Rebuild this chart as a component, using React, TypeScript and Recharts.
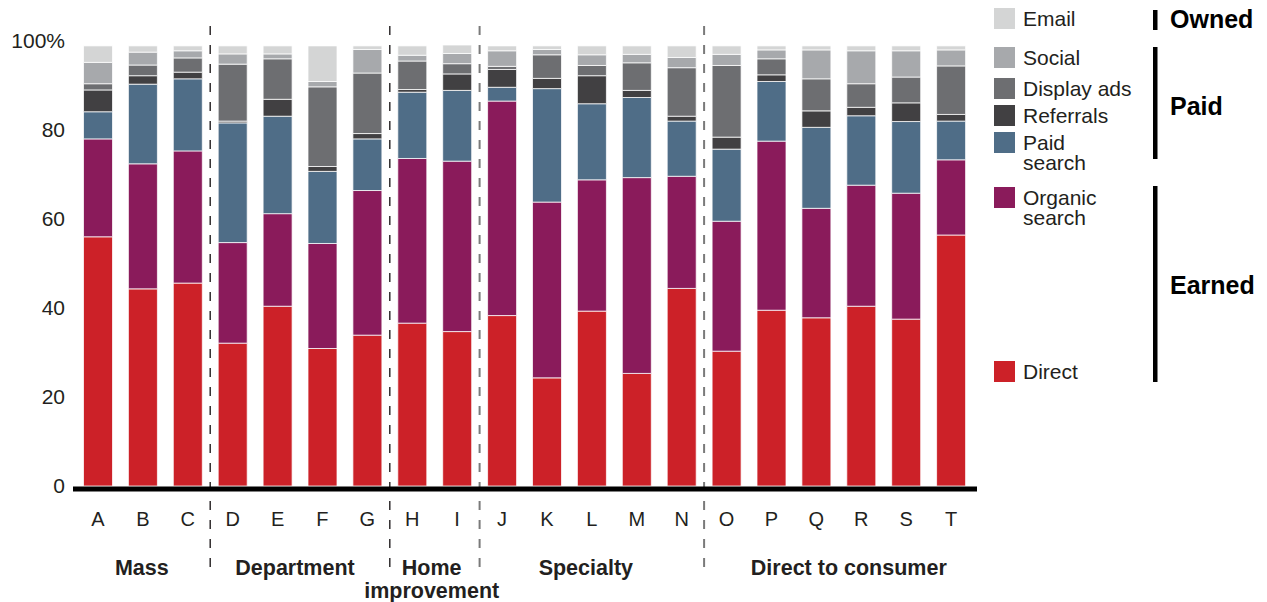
import { BarChart, Bar, XAxis, YAxis, ReferenceLine, ReferenceArea } from "recharts";

// retailers, grouped by channel type
const retailers = ["A", "B", "C", "D", "E", "F", "G", "H", "I", "J", "K", "L", "M", "N", "O", "P", "Q", "R", "S", "T"];

// share of traffic, % (bottom of the stack first)
const direct = [56.0, 44.3, 45.6, 32.1, 40.4, 30.9, 33.9, 36.6, 34.7, 38.3, 24.3, 39.3, 25.3, 44.4, 30.3, 39.5, 37.8, 40.4, 37.5, 56.4];
const organicSearch = [22.0, 28.1, 29.7, 22.6, 20.8, 23.6, 32.5, 37.0, 38.3, 48.2, 39.5, 29.5, 44.0, 25.2, 29.2, 38.0, 24.6, 27.2, 28.3, 16.9];
const paidSearch = [6.1, 17.9, 16.2, 26.9, 21.9, 16.2, 11.6, 14.9, 15.9, 3.1, 25.5, 17.1, 18.0, 12.4, 16.2, 13.4, 18.2, 15.6, 16.1, 8.7];
const referrals = [4.9, 1.9, 1.5, 0.4, 3.8, 1.1, 1.2, 0.6, 3.7, 4.0, 2.3, 6.3, 1.6, 1.1, 2.7, 1.5, 3.7, 1.9, 4.2, 1.5];
const displayAds = [1.4, 2.4, 3.2, 12.8, 9.1, 17.9, 13.6, 6.4, 2.3, 0.7, 5.3, 2.3, 6.2, 10.9, 16.1, 3.6, 7.2, 5.3, 5.8, 10.9];
const social = [4.8, 2.9, 1.6, 2.3, 1.1, 1.2, 5.3, 1.3, 2.3, 3.5, 1.2, 2.4, 1.9, 2.3, 2.5, 2.0, 6.5, 7.4, 5.9, 3.6];
const email = [3.7, 1.4, 1.1, 1.8, 1.8, 8.0, 0.8, 2.1, 1.9, 1.1, 0.8, 2.0, 1.9, 2.6, 1.9, 0.9, 0.9, 1.1, 1.1, 0.9];

const yTicks = [0, 20, 40, 60, 80, 100];

const groupLabels = [["Mass"], ["Department"], ["Home", "improvement"], ["Specialty"], ["Direct to consumer"]];
const groupFirst = ["A", "D", "H", "J", "O"];
const groupLast = ["C", "G", "I", "N", "T"];

const seriesKeys = ["direct", "organicSearch", "paidSearch", "referrals", "displayAds", "social", "email"];
const seriesNames = [["Direct"], ["Organic", "search"], ["Paid", "search"], ["Referrals"], ["Display ads"], ["Social"], ["Email"]];
const colors: Record<string, string> = {
  direct: "#cc2128",
  organicSearch: "#8a1b5b",
  paidSearch: "#4f6d87",
  referrals: "#414042",
  displayAds: "#6d6e71",
  social: "#a7a9ac",
  email: "#d4d5d5",
};

const bracketNames = ["Owned", "Paid", "Earned"];

const data = retailers.map((name, i) => ({
  name,
  direct: direct[i],
  organicSearch: organicSearch[i],
  paidSearch: paidSearch[i],
  referrals: referrals[i],
  displayAds: displayAds[i],
  social: social[i],
  email: email[i],
}));

const FONT = '"Liberation Sans", Arial, Helvetica, sans-serif';
const INK = "#231f20";

function YTick({ x, y, payload }: any) {
  return (
    <text x={x - 8} y={y} dy={6.5} textAnchor="end" fontSize={21} fill={INK} fontFamily={FONT}>
      {payload.value === 100 ? "100%" : payload.value}
    </text>
  );
}

function XTick({ x, y, payload }: any) {
  return (
    <text x={x} y={y} dy={40} textAnchor="middle" fontSize={20} fill={INK} fontFamily={FONT}>
      {payload.value}
    </text>
  );
}

function GroupLabel({ viewBox, lines, nudge = 0 }: any) {
  const cx = viewBox.x + viewBox.width / 2 + nudge;
  const cy = viewBox.y + viewBox.height / 2;
  return (
    <text textAnchor="middle" fontSize={21.5} fontWeight="bold" fill={INK} fontFamily={FONT}>
      {lines.map((l: string, i: number) => (
        <tspan key={i} x={cx} y={cy + 9 + i * 22.5}>{l}</tspan>
      ))}
    </text>
  );
}

// small horizontal nudges of the group captions, as placed in the original
const labelNudge = [-1, -5, -3, -6, 10];

// legend layout (page coords)
const legendOrder = [6, 5, 4, 3, 2, 1, 0];
const legendTops = [8, 47, 78, 105, 132, 187, 361];
const brackets = [
  { top: 10, bottom: 30, mid: 19 },
  { top: 47, bottom: 159, mid: 106 },
  { top: 186, bottom: 382, mid: 285 },
];
const sepStyle = [
  { stroke: "#231f20", w: 1.4 },
  { stroke: "#231f20", w: 1.4 },
  { stroke: "#7a7a7a", w: 2 },
  { stroke: "#7a7a7a", w: 2 },
];

export default function App() {
  return (
    <div style={{ position: "absolute", left: 0, top: 0, width: 1267, height: 602, background: "#fff" }}>
      <BarChart width={1267} height={602} data={data} margin={{ top: 41, right: 290, bottom: 86, left: 8 }}>
        <XAxis
          dataKey="name"
          interval={0}
          height={30}
          padding={{ left: 2.5, right: 3.5 }}
          tickLine={false}
          tickSize={0}
          tickMargin={0}
          axisLine={{ stroke: "#000", strokeWidth: 5, transform: "translate(0,3)" }}
          tick={<XTick />}
        />
        <YAxis
          width={65}
          domain={[0, 100]}
          ticks={yTicks}
          axisLine={false}
          tickLine={false}
          tickSize={0}
          tickMargin={0}
          tick={<YTick />}
        />
        {seriesKeys.map((k) => (
          <Bar
            key={k}
            dataKey={k}
            stackId="traffic"
            fill={colors[k]}
            stroke="#fff"
            strokeOpacity={0.75}
            strokeWidth={1}
            barSize={29}
            isAnimationActive={false}
          />
        ))}
        {groupFirst.slice(1).map((c, i) => (
          <ReferenceLine
            key={c}
            segment={[{ x: c, y: -18.2 }, { x: c, y: 104.7 }]}
            position="start"
            ifOverflow="visible"
            stroke={sepStyle[i].stroke}
            strokeWidth={sepStyle[i].w}
            strokeDasharray="9 10"
          />
        ))}
        {groupFirst.map((c, i) => (
          <ReferenceArea
            key={c}
            x1={c}
            x2={groupLast[i]}
            y1={-16}
            y2={-20}
            ifOverflow="visible"
            fill="none"
            fillOpacity={0}
            stroke="none"
            label={<GroupLabel lines={groupLabels[i]} nudge={labelNudge[i]} />}
          />
        ))}
      </BarChart>
      <svg
        width={1267}
        height={602}
        style={{ position: "absolute", left: 0, top: 0, pointerEvents: "none" }}
        fontFamily={FONT}
      >
        {legendOrder.map((si, row) => {
          const k = seriesKeys[si];
          const t = legendTops[row];
          return (
            <g key={k}>
              <rect x={994} y={t} width={21} height={21} fill={colors[k]} />
              <text fontSize={21} fill={INK}>
                {seriesNames[si].map((l, j) => (
                  <tspan key={j} x={1023} y={t + 18 + j * 20}>{l}</tspan>
                ))}
              </text>
            </g>
          );
        })}
        {brackets.map((b, i) => (
          <g key={bracketNames[i]}>
            <rect x={1153} y={b.top} width={4.5} height={b.bottom - b.top} fill="#000" />
            <text x={1170} y={b.mid + 9} fontSize={25} fontWeight="bold" fill="#000">
              {bracketNames[i]}
            </text>
          </g>
        ))}
      </svg>
    </div>
  );
}
